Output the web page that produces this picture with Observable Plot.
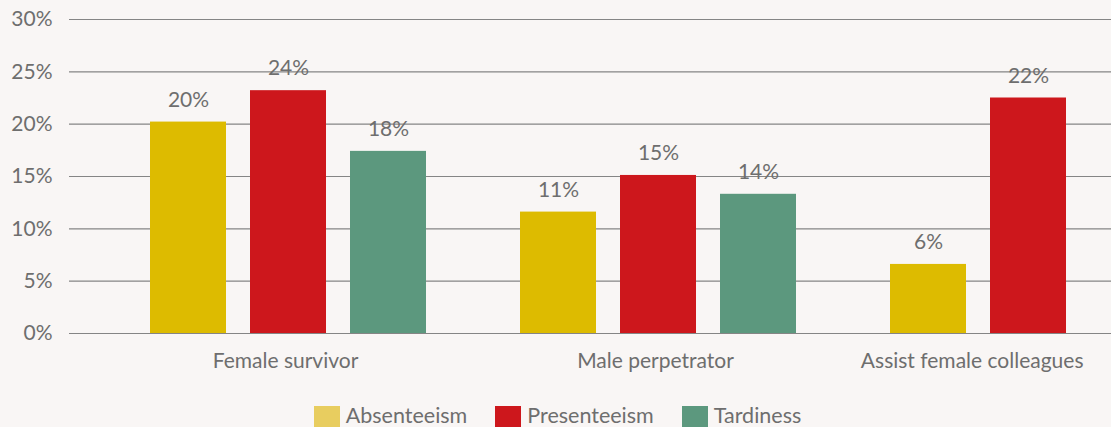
<!DOCTYPE html>
<html>
<head>
<meta charset="utf-8">
<script src="https://cdn.jsdelivr.net/npm/d3@7"></script>
<script src="https://cdn.jsdelivr.net/npm/@observablehq/plot@0.6"></script>
<style>
  html, body { margin: 0; padding: 0; background: #f9f6f5; }
  #wrap { width: 1111px; height: 427px; overflow: hidden; position: relative; font-family: Lato, "Open Sans", sans-serif; }
  #chart { width: 1111px; height: 390px; overflow: hidden; }
  #chart svg { max-width: none !important; display: block; }
  #legend { display: flex; justify-content: center; align-items: flex-start; width: 1111px; padding-left: 4px; box-sizing: border-box; }
  .item { display: flex; align-items: flex-start; margin: 0 14px; }
  .sw { width: 26px; height: 24px; margin-top: 16px; margin-right: 6px; }
  .lab { font-size: 21.5px; color: #6e6e6e; line-height: 22px; margin-top: 14px; }
</style>
</head>
<body>
<div id="wrap">
  <div id="chart"></div>
  <div id="legend"></div>
</div>
<script>
const groups = ["Female survivor", "Male perpetrator", "Assist female colleagues"];
const series = ["Absenteeism", "Presenteeism", "Tardiness"];
const absenteeism = [20.2, 11.6, 6.6];
const presenteeism = [23.2, 15.1, 22.5];
const tardiness = [17.4, 13.3, null];
const absenteeismLabels = ["20%", "11%", "6%"];
const presenteeismLabels = ["24%", "15%", "22%"];
const tardinessLabels = ["18%", "14%", null];
const yTicks = [0, 5, 10, 15, 20, 25, 30];
const barColors = ["#ddbb00", "#cd171c", "#5c987e"];
const legendColors = ["#e8cd5f", "#cd171c", "#5c987e"];

const valuesBySeries = [absenteeism, presenteeism, tardiness];
const labelsBySeries = [absenteeismLabels, presenteeismLabels, tardinessLabels];
const table = [];
groups.forEach((g, i) => {
  series.forEach((s, j) => {
    const v = valuesBySeries[j][i];
    if (v != null) table.push({group: g, series: s, value: v, label: labelsBySeries[j][i]});
  });
});

const textColor = "#6e6e6e";
const fs = 21;
const chart = Plot.plot({
  width: 1179,
  height: 390,
  marginLeft: 69,
  marginRight: 0,
  marginTop: 19,
  marginBottom: 57,
  style: {background: "transparent", fontFamily: "Lato, 'Open Sans', sans-serif", fontSize: fs + "px", color: textColor, overflow: "visible"},
  fx: {domain: groups, padding: 0, axis: null},
  x: {domain: series, paddingInner: 0.24, paddingOuter: 0.47, align: 0.862, axis: null},
  y: {domain: [0, 30], axis: null},
  color: {domain: series, range: barColors},
  marks: [
    Plot.gridY(yTicks, {stroke: "#858585", strokeOpacity: 1, strokeWidth: 1.2}),
    Plot.axisY(yTicks, {tickSize: 0, tickPadding: 17, tickFormat: d => d + "%", fontSize: fs, fill: textColor, label: null}),
    Plot.barY(table, {fx: "group", x: "series", y: "value", fill: "series"}),
    Plot.text(table, {fx: "group", x: "series", y: "value", text: "label", dy: -22, fill: textColor, fontSize: fs}),
    Plot.text(groups.slice(0, 2), {fx: d => d, x: () => series[1], y: () => 0, text: d => d, dy: 28, dx: -3, fill: textColor, fontSize: fs}),
    Plot.text(groups.slice(2), {fx: d => d, x: () => series[1], y: () => 0, text: d => d, dy: 28, dx: 55, textAnchor: "end", fill: textColor, fontSize: fs})
  ]
});
document.getElementById("chart").appendChild(chart);

const legend = document.getElementById("legend");
series.forEach((s, i) => {
  const item = document.createElement("div");
  item.className = "item";
  const sw = document.createElement("div");
  sw.className = "sw";
  sw.style.background = legendColors[i];
  const lab = document.createElement("div");
  lab.className = "lab";
  lab.textContent = s;
  item.appendChild(sw);
  item.appendChild(lab);
  legend.appendChild(item);
});
</script>
</body>
</html>
